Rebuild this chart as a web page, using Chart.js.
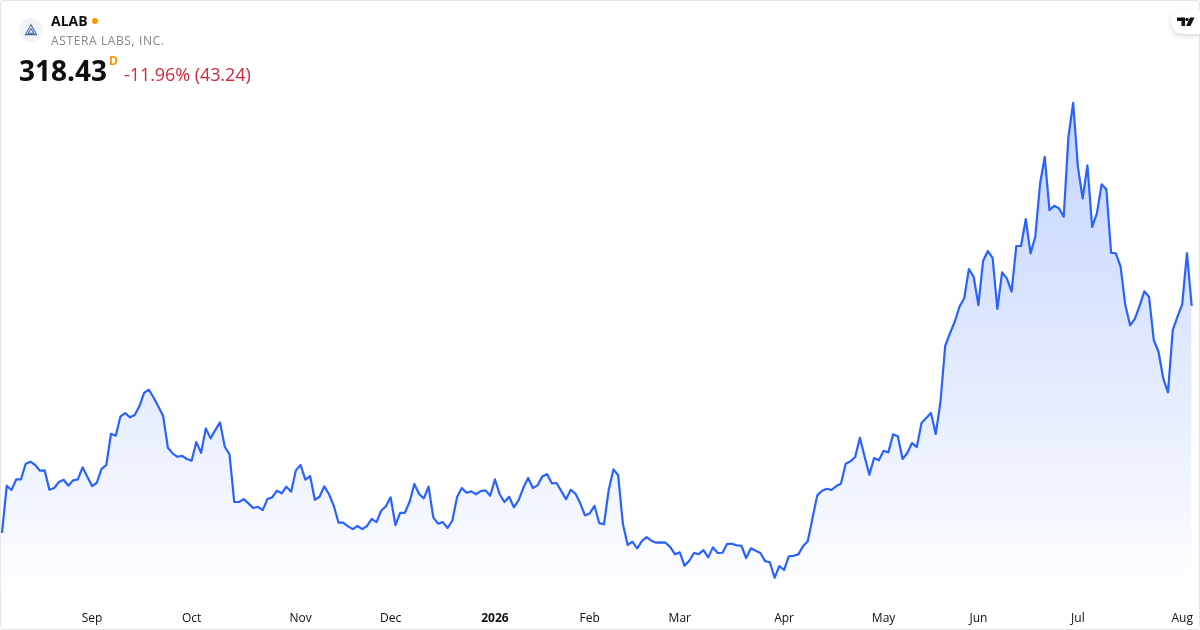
<!DOCTYPE html>
<html>
<head>
<meta charset="utf-8">
<script src="https://cdn.jsdelivr.net/npm/chart.js@4"></script>
<style>
html,body{margin:0;padding:0;background:#fff;}
body{width:1200px;height:630px;overflow:hidden;position:relative;font-family:"Open Sans",sans-serif;}
#wrap{position:absolute;left:0;top:0;width:1200px;height:630px;}
#frame{position:absolute;left:0;top:0;width:1198px;height:628px;border:1px solid #e6e6e6;border-radius:3px;pointer-events:none;}
.t{position:absolute;white-space:nowrap;line-height:1;}
#logo{position:absolute;left:19px;top:18px;width:24px;height:24px;border-radius:50%;background:#f0f3fa;}
#dot{position:absolute;left:92px;top:18px;width:6px;height:6px;border-radius:50%;background:#ff9800;}
#tv{position:absolute;left:1171px;top:10px;width:29px;height:24px;background:#fff;border-radius:12px 0 0 12px;box-shadow:0 2px 5px rgba(0,0,0,.16);}
</style>
</head>
<body>
<div id="wrap"><canvas id="c" width="1200" height="630"></canvas></div>
<div id="frame"></div>
<div id="logo"><svg width="24" height="24" viewBox="0 0 24 24"><path d="M12 6.8 L17.6 16.6 H6.4 Z" fill="none" stroke="#5a6580" stroke-width="1.1"/><path d="M12 10.6 L14.8 15.4 H9.2 Z" fill="none" stroke="#4a7fd0" stroke-width="1.2"/></svg></div>
<div class="t" style="left:51px;top:14px;font-size:14px;font-weight:700;color:#0f0f0f;">ALAB</div>
<div id="dot"></div>
<div class="t" style="left:51px;top:35px;font-size:12px;color:#868686;letter-spacing:.62px;">ASTERA LABS, INC.</div>
<div class="t" style="left:19px;top:56px;font-size:28px;font-weight:700;color:#0f0f0f;">318.43</div>
<div class="t" style="left:109px;top:55px;font-size:12px;font-weight:700;color:#ff9800;">D</div>
<div class="t" style="left:124px;top:65px;font-size:18px;letter-spacing:-.07px;color:#d1293d;">-11.96% (43.24)</div>
<div id="tv"><svg width="29" height="24" viewBox="0 0 29 24"><path d="M6 7.5 H14 V16 H10.5 V11 H6 Z" fill="#0f0f0f"/><circle cx="16" cy="9.4" r="1.7" fill="#0f0f0f"/><path d="M19 7.5 H23.5 L19.5 16 H15 Z" fill="#0f0f0f"/></svg></div>
<script>
const closePrices = [
133.2,171.8,168.3,177.0,177.0,189.7,191.4,188.7,184.0,184.3,168.5,169.9,174.8,176.7,171.8,176.2,177.0,186.8,179.1,171.5,
174.2,185.6,188.7,214.2,212.6,228.4,231.1,227.6,229.5,236.8,247.7,250.1,243.6,236.2,228.6,202.8,198.2,195.4,196.2,193.6,
192.2,207.4,198.7,218.6,210.4,217.2,223.5,203.6,197.4,158.5,158.5,160.9,157.4,153.6,154.6,151.9,160.9,162.3,167.7,165.6,
171.0,166.9,184.3,188.7,176.7,179.7,160.3,162.8,171.3,164.8,155.4,141.6,141.6,138.6,136.4,138.9,136.4,138.9,144.8,142.1,
151.4,155.0,162.3,139.7,149.7,149.7,158.7,173.2,165.0,161.5,171.0,146.0,140.8,142.1,137.3,143.2,162.3,169.9,166.1,167.2,
164.8,167.4,168.0,163.6,177.0,164.8,158.5,162.8,154.1,160.1,170.1,178.1,169.9,172.1,179.4,181.3,173.7,174.0,167.4,160.7,
168.5,165.2,157.4,147.6,149.2,155.4,141.3,140.3,168.3,185.1,180.3,140.5,123.4,126.1,120.7,126.6,129.9,126.9,125.3,125.6,
125.3,121.7,115.8,117.4,106.5,110.6,116.9,116.0,119.3,113.3,121.5,116.9,117.1,124.4,124.4,123.1,122.8,112.8,120.7,118.7,
116.9,110.3,109.3,96.7,106.2,103.0,114.2,114.6,115.8,122.3,126.4,145.2,163.9,167.7,169.3,168.3,171.5,173.4,189.7,191.7,
195.2,210.9,195.4,180.7,194.4,192.5,200.3,199.0,213.7,212.1,193.6,198.5,206.6,203.3,222.9,227.0,231.1,214.0,240.3,286.0,
296.1,305.6,317.8,324.7,348.6,342.3,319.2,355.4,363.3,357.8,316.0,345.9,341.0,330.1,367.4,367.4,389.4,361.4,375.0,418.0,
440.2,396.7,400.2,398.1,391.3,456.6,484.3,431.6,406.3,433.2,382.9,394.0,417.7,413.6,361.9,361.4,350.5,319.2,302.7,308.0,
318.4,330.4,326.0,290.7,281.1,259.4,248.0,298.8,309.7,319.8,361.7,318.43
];
const tickIndexes = [19,40,63,82,104,124,143,165,186,206,227,249];
const tickLabels = ["Sep","Oct","Nov","Dec","2026","Feb","Mar","Apr","May","Jun","Jul","Aug"];
const categories = closePrices.map((_, i) => {
  const k = tickIndexes.indexOf(i);
  return k >= 0 ? tickLabels[k] : String(i);
});
const FONT = '"Open Sans", sans-serif';
const priceMin = 75.27, priceMax = 568.13;

new Chart(document.getElementById('c'), {
  type: 'line',
  data: {
    labels: categories,
    datasets: [{
      data: closePrices,
      borderColor: '#2962ff',
      borderWidth: 2.2,
      pointRadius: 0,
      tension: 0,
      clip: false,
      fill: 'start',
      borderJoinStyle: 'round',
      borderCapStyle: 'butt',
      backgroundColor: (ctx) => {
        const { chart } = ctx;
        if (!chart.chartArea) return 'rgba(41,98,255,0.1)';
        const top = chart.scales.y.getPixelForValue(Math.max(...closePrices));
        const g = chart.ctx.createLinearGradient(0, top, 0, chart.chartArea.bottom);
        g.addColorStop(0, 'rgba(41,98,255,0.28)');
        g.addColorStop(1, 'rgba(41,98,255,0)');
        return g;
      }
    }]
  },
  options: {
    responsive: false,
    animation: false,
    devicePixelRatio: 1,
    layout: { padding: { left: 2, right: 8, top: 0, bottom: 0 } },
    plugins: { legend: { display: false }, tooltip: { enabled: false } },
    scales: {
      x: {
        type: 'category',
        offset: false,
        grid: { display: false, drawTicks: false },
        border: { display: false },
        afterFit: (s) => { s.height = 26; },
        afterBuildTicks: (s) => { s.ticks = tickIndexes.map(i => ({ value: i })); },
        ticks: {
          autoSkip: false, maxRotation: 0, minRotation: 0, padding: 7,
          color: '#0f0f0f',
          font: (ctx) => ({
            family: FONT, size: 12,
            weight: ctx.tick && ctx.tick.label === '2026' ? '700' : '400'
          })
        }
      },
      y: { display: false, min: priceMin, max: priceMax }
    }
  }
});
</script>
</body>
</html>
